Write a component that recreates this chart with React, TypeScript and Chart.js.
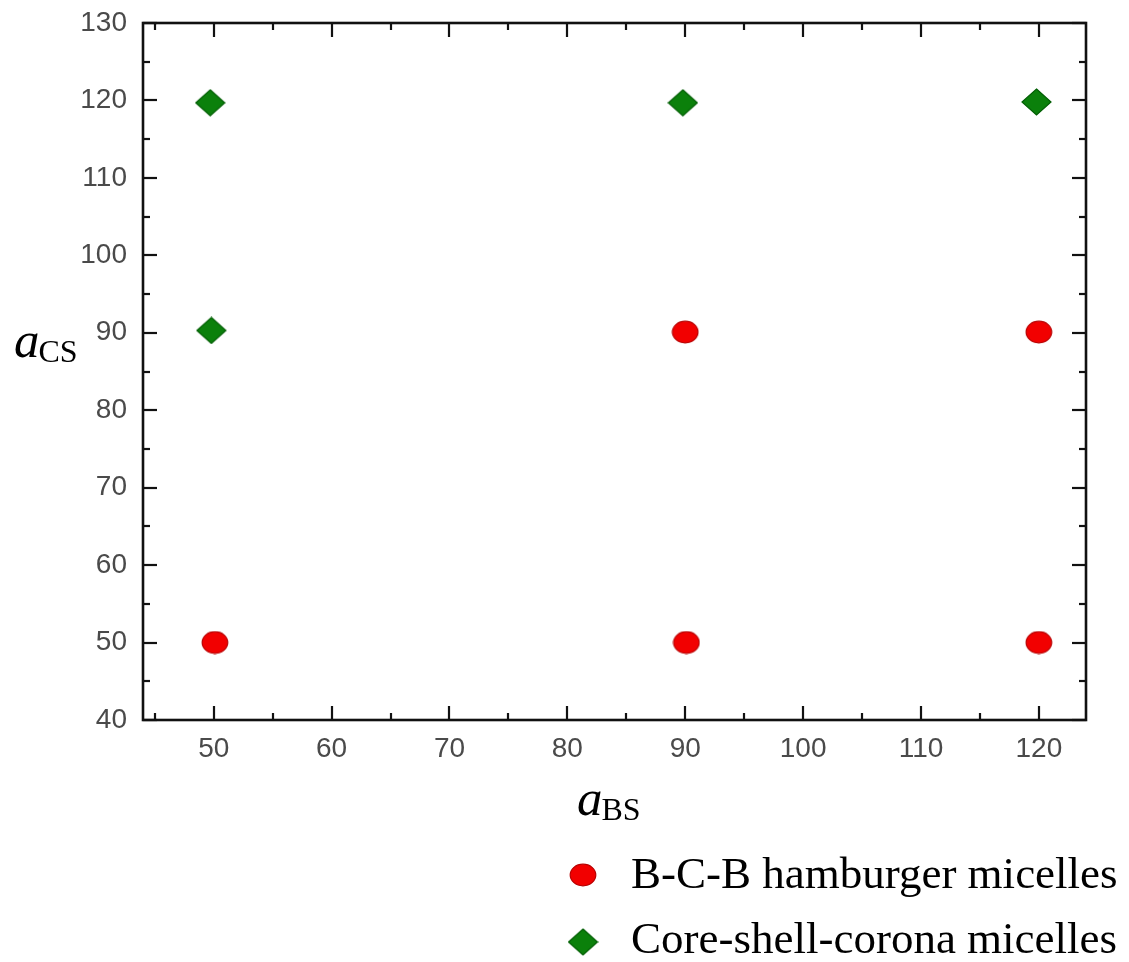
import React, { useEffect, useRef } from "react";
import { Chart, registerables } from "chart.js";

Chart.register(...registerables);

// ---- data ----
const xTicks = [50, 60, 70, 80, 90, 100, 110, 120];
const yTicks = [40, 50, 60, 70, 80, 90, 100, 110, 120, 130];
const xMin = 44;
const xMax = 124;
const yMin = 40;
const yMax = 130;
const hamburgerX = [50.1, 90.1, 120.0, 90.0, 120.0];
const hamburgerY = [50.0, 50.0, 50.0, 90.1, 90.1];
const cscX = [49.7, 89.8, 119.8, 49.8];
const cscY = [119.7, 119.7, 119.8, 90.3];
const seriesLabels = ["B-C-B hamburger micelles", "Core-shell-corona micelles"];
const xTitle = ["a", "BS"];
const yTitle = ["a", "CS"];

const SERIF = '"Liberation Serif", "Times New Roman", serif';
const SANS = '"Liberation Sans", Arial, sans-serif';

function makeEllipse(): HTMLCanvasElement {
  const c = document.createElement("canvas");
  c.width = 28;
  c.height = 24;
  const g = c.getContext("2d")!;
  g.beginPath();
  g.ellipse(14, 12, 12.8, 10.8, 0, 0, Math.PI * 2);
  g.fillStyle = "#f20000";
  g.fill();
  g.lineWidth = 1.2;
  g.strokeStyle = "#b80000";
  g.stroke();
  return c;
}

function makeDiamond(): HTMLCanvasElement {
  const c = document.createElement("canvas");
  c.width = 31;
  c.height = 28;
  const g = c.getContext("2d")!;
  g.beginPath();
  g.moveTo(15.5, 1);
  g.lineTo(30, 14);
  g.lineTo(15.5, 27);
  g.lineTo(1, 14);
  g.closePath();
  g.fillStyle = "#0b800b";
  g.fill();
  g.lineWidth = 1.2;
  g.strokeStyle = "#035f05";
  g.stroke();
  return c;
}

function minorsOf(ticks: number[], lo: number, hi: number): number[] {
  const out: number[] = [];
  const step = ticks[1] - ticks[0];
  const first = ticks[0] - step / 2;
  if (first >= lo) out.push(first);
  for (let i = 0; i < ticks.length - 1; i++) out.push((ticks[i] + ticks[i + 1]) / 2);
  const last = ticks[ticks.length - 1] + step / 2;
  if (last <= hi) out.push(last);
  return out;
}

const framePlugin = {
  id: "frameTicks",
  afterDraw(chart: any) {
    const { ctx, chartArea: a, scales } = chart;
    const xs = scales.x;
    const ys = scales.y;
    ctx.save();
    ctx.strokeStyle = "#111";
    ctx.lineWidth = 2.2;
    ctx.lineCap = "butt";
    const line = (x1: number, y1: number, x2: number, y2: number) => {
      ctx.beginPath();
      ctx.moveTo(x1, y1);
      ctx.lineTo(x2, y2);
      ctx.stroke();
    };
    const MAJ = 14;
    const MIN = 7;
    const xt = (v: number, len: number) => {
      const p = Math.round(xs.getPixelForValue(v));
      line(p, a.bottom, p, a.bottom - len);
      line(p, a.top, p, a.top + len);
    };
    const yt = (v: number, len: number) => {
      const p = Math.round(ys.getPixelForValue(v));
      line(a.left, p, a.left + len, p);
      line(a.right, p, a.right - len, p);
    };
    xTicks.forEach((v) => xt(v, MAJ));
    minorsOf(xTicks, xMin, xMax).forEach((v) => xt(v, MIN));
    yTicks.forEach((v) => yt(v, MAJ));
    minorsOf(yTicks, yMin, yMax).forEach((v) => yt(v, MIN));
    ctx.lineWidth = 2.6;
    ctx.strokeRect(a.left, a.top, a.right - a.left, a.bottom - a.top);
    ctx.restore();
  },
};

const titlePlugin = {
  id: "titlesLegend",
  afterDraw(chart: any) {
    const { ctx } = chart;
    ctx.save();
    ctx.fillStyle = "#000";
    ctx.textBaseline = "alphabetic";
    ctx.textAlign = "left";
    const drawSub = (main: string, sub: string, x: number, y: number) => {
      ctx.font = `italic 51px ${SERIF}`;
      ctx.fillText(main, x, y);
      const w = ctx.measureText(main).width;
      ctx.font = `32px ${SERIF}`;
      ctx.fillText(sub, x + w - 1, y + 5);
    };
    drawSub(xTitle[0], xTitle[1], 577, 815);
    drawSub(yTitle[0], yTitle[1], 14, 357);

    // legend
    const ds = chart.data.datasets;
    const rows = [
      { y: 875, base: 888 },
      { y: 942, base: 953 },
    ];
    ds.forEach((d: any, i: number) => {
      const img = d.pointStyle as HTMLCanvasElement;
      ctx.drawImage(img, 583 - img.width / 2, rows[i].y - img.height / 2);
      ctx.font = `45px ${SERIF}`;
      ctx.fillText(d.label, 631, rows[i].base);
    });
    ctx.restore();
  },
};

export default function App() {
  const ref = useRef<HTMLCanvasElement | null>(null);
  useEffect(() => {
    if (!ref.current) return;
    const ellipse = makeEllipse();
    const diamond = makeDiamond();
    const chart = new Chart(ref.current, {
      type: "scatter",
      data: {
        datasets: [
          {
            label: seriesLabels[0],
            data: hamburgerX.map((x, i) => ({ x, y: hamburgerY[i] })),
            pointStyle: ellipse as any,
            backgroundColor: "#f20000",
            borderColor: "#b80000",
          },
          {
            label: seriesLabels[1],
            data: cscX.map((x, i) => ({ x, y: cscY[i] })),
            pointStyle: diamond as any,
            backgroundColor: "#0b800b",
            borderColor: "#035f05",
          },
        ],
      },
      options: {
        responsive: false,
        animation: false,
        devicePixelRatio: 1,
        layout: { padding: { left: 0, top: 23, right: 43, bottom: 0 } },
        plugins: {
          legend: { display: false },
          tooltip: { enabled: false },
        },
        scales: {
          x: {
            type: "linear",
            min: xMin,
            max: xMax,
            afterBuildTicks: (s: any) => {
              s.ticks = xTicks.map((v) => ({ value: v }));
            },
            afterFit: (s: any) => {
              s.height = 242;
              s.paddingLeft = 0;
              s.paddingRight = 0;
            },
            grid: { display: false, drawTicks: false },
            border: { display: false },
            ticks: {
              padding: 12,
              color: "#4a4a4a",
              font: { family: SANS, size: 28 },
              maxRotation: 0,
            },
          },
          y: {
            type: "linear",
            min: yMin,
            max: yMax,
            afterBuildTicks: (s: any) => {
              s.ticks = yTicks.map((v) => ({ value: v }));
            },
            afterFit: (s: any) => {
              s.width = 143;
              s.paddingTop = 0;
              s.paddingBottom = 0;
            },
            grid: { display: false, drawTicks: false },
            border: { display: false },
            ticks: {
              padding: 16,
              color: "#4a4a4a",
              font: { family: SANS, size: 28 },
            },
          },
        },
      },
      plugins: [framePlugin, titlePlugin],
    } as any);
    return () => chart.destroy();
  }, []);
  return (
    <div style={{ position: "absolute", left: 0, top: 0, width: 1129, height: 962, background: "#fff" }}>
      <canvas ref={ref} width={1129} height={962} style={{ display: "block" }} />
    </div>
  );
}
